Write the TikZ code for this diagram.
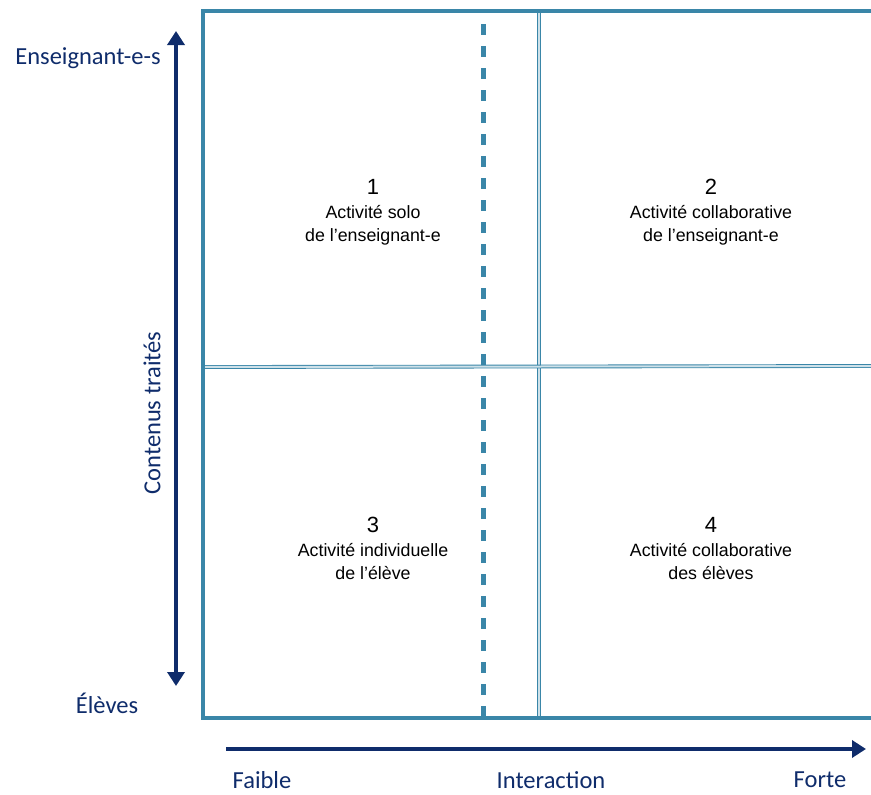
\documentclass[tikz,border=0pt]{standalone}
\usepackage{fontspec}
\setmainfont{Liberation Sans}
\newfontfamily\axisfont{Carlito}
\usetikzlibrary{arrows.meta}
\definecolor{frameblue}{HTML}{3A86A8}
\definecolor{axisnavy}{HTML}{0F2C6B}
\tikzset{
  frameline/.style={draw=frameblue, line width=4pt, line cap=rect},
  splitline/.style={draw=frameblue, line width=0.9pt, double=frameblue!25, double distance=2pt},
  midline/.style={draw=frameblue, line width=5pt, dash pattern=on 11pt off 11pt},
  axisarrow/.style={draw=axisnavy, line width=3.5pt, -{Triangle[width=17pt,length=14pt]}},
  axislabel/.style={font=\axisfont\fontsize{24.5}{29}\selectfont, text=axisnavy, inner sep=0pt},
  quadnum/.style={font=\fontsize{22}{26}\selectfont, inner sep=0pt},
  quadtext/.style={font=\fontsize{17.8}{23.5}\selectfont, align=center, inner sep=0pt},
}
\begin{document}
\begin{tikzpicture}[x=1pt, y=-1pt]
\useasboundingbox (0,0) rectangle (871,795);

% dashed threshold line
\coordinate (dtop) at (483,24);
\coordinate (dbot) at (483,716);
\draw[midline] (dtop) -- (dbot);

% quadrant dividers
\coordinate (vtop) at (539,11);
\coordinate (vbot) at (539,718);
\coordinate (hl) at (203,367);
\coordinate (hr) at (875,366);
\draw[splitline] (vtop) -- (vbot);
\draw[splitline] (hl) -- (hr);

% outer frame, open on the right
\coordinate (ftr) at (880,11);
\coordinate (ftl) at (203,11);
\coordinate (fbl) at (203,718);
\coordinate (fbr) at (880,718);
\draw[frameline] (ftr) -- (ftl) -- (fbl) -- (fbr);

% vertical axis
\coordinate (vax1) at (176,686);
\coordinate (vax2) at (176,31);
\coordinate (vaxm) at (176,360);
\draw[axisarrow] (vaxm) -- (vax2);
\draw[axisarrow] (vaxm) -- (vax1);

% horizontal axis
\coordinate (hax1) at (226,749);
\coordinate (hax2) at (866,749);
\draw[axisarrow] (hax1) -- (hax2);

% axis labels
\node[axislabel] (ens) at (88,58) {Enseignant-e-s};
\node[axislabel] (elv) at (107,703) {Élèves};
\node[axislabel, rotate=90] (cont) at (152,413) {Contenus traités};
\node[axislabel] (faible) at (262,780) {Faible};
\node[axislabel] (inter) at (551,780) {Interaction};
\node[axislabel] (forte) at (820,780) {Forte};

% quadrant captions
\node[quadnum] (n1) at (373,187) {1};
\node[quadtext, anchor=north] (t1) at (373,205) {Activité solo\\de l’enseignant-e};
\node[quadnum] (n2) at (711,187) {2};
\node[quadtext, anchor=north] (t2) at (711,205) {Activité collaborative\\de l’enseignant-e};
\node[quadnum] (n3) at (373,525) {3};
\node[quadtext, anchor=north] (t3) at (373,543) {Activité individuelle\\de l’élève};
\node[quadnum] (n4) at (711,525) {4};
\node[quadtext, anchor=north] (t4) at (711,543) {Activité collaborative\\des élèves};
\end{tikzpicture}
\end{document}
